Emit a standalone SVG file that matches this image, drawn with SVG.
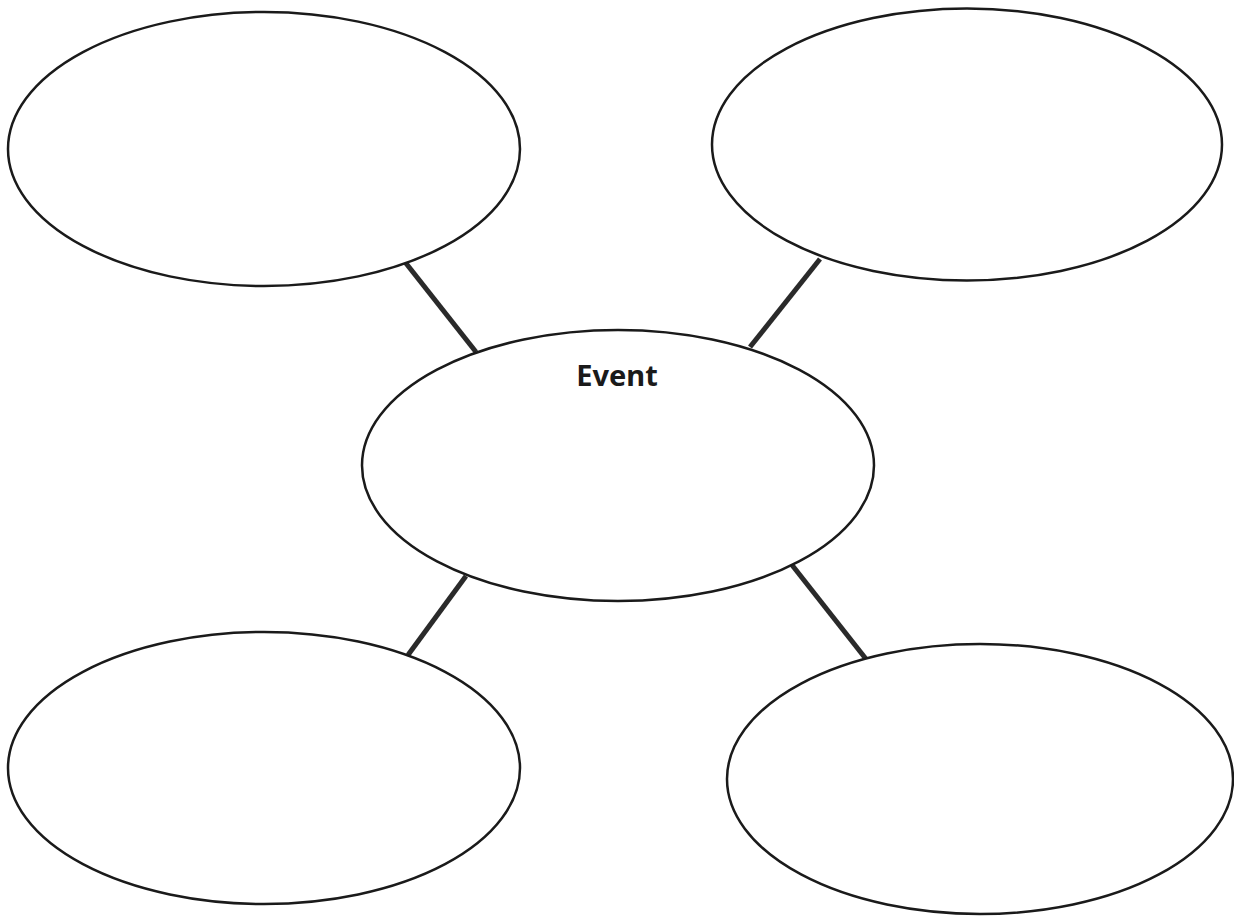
<svg xmlns="http://www.w3.org/2000/svg" width="1234" height="920" viewBox="0 0 1234 920">
<style>
.node{fill:#fff;stroke:#1a1a1a;stroke-width:2.5}
.conn{stroke:#2a2a2a;stroke-width:5;stroke-linecap:butt}
.label{font-family:"Noto Sans","DejaVu Sans",sans-serif;font-weight:bold;font-size:29px;fill:#1a1a1a;text-anchor:middle}
</style>
<rect width="1234" height="920" fill="#fff"/>
<g id="connectors">
<line class="conn" x1="405" y1="262" x2="476" y2="352"/>
<line class="conn" x1="820" y1="259" x2="750" y2="347"/>
<line class="conn" x1="466" y1="576" x2="408" y2="655"/>
<line class="conn" x1="792" y1="565" x2="866" y2="659"/>
</g>
<g id="top-left"><ellipse class="node" cx="264" cy="149" rx="256" ry="137"/></g>
<g id="top-right"><ellipse class="node" cx="967" cy="144.5" rx="255" ry="136"/></g>
<g id="bottom-left"><ellipse class="node" cx="264" cy="768" rx="256" ry="136"/></g>
<g id="bottom-right"><ellipse class="node" cx="980" cy="779" rx="253" ry="135"/></g>
<g id="event"><ellipse class="node" cx="618" cy="465.5" rx="256" ry="135.5"/><text class="label" x="617" y="386">Event</text></g>
</svg>
